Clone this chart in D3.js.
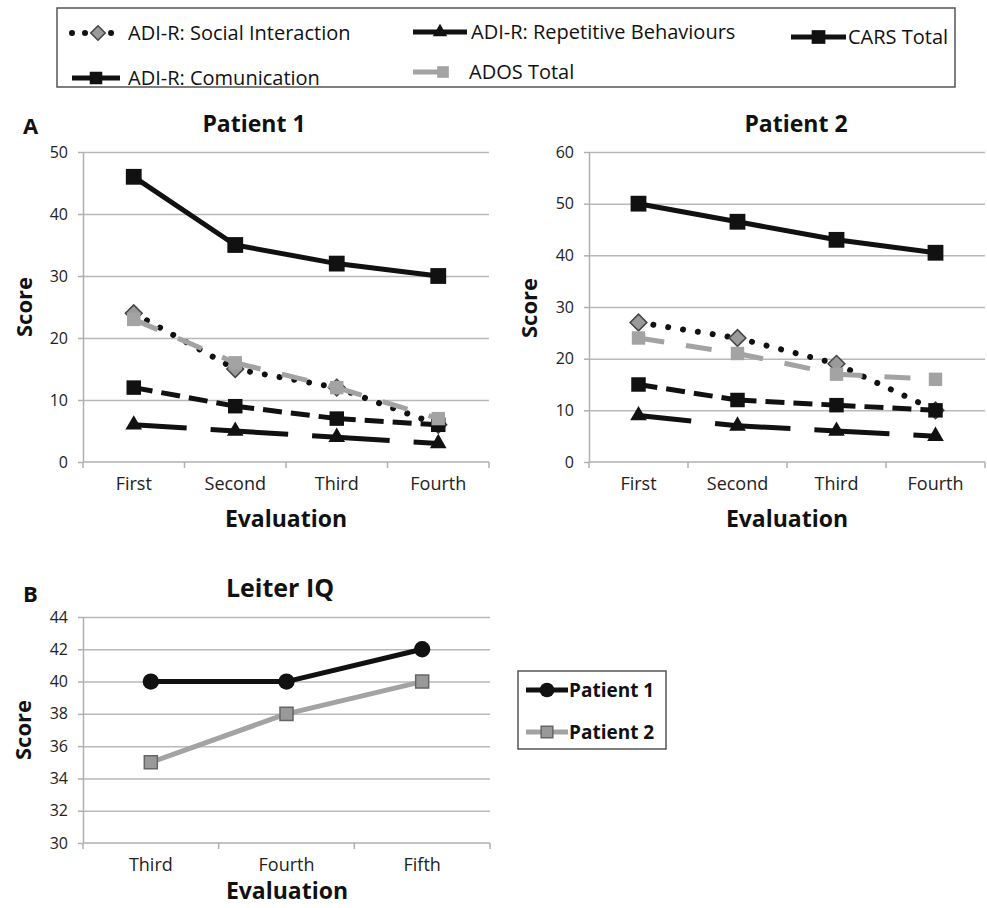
<!DOCTYPE html>
<head>
  <meta charset="utf-8">
  <script src="https://d3js.org/d3.v7.min.js"></script>
  <style>
    body { margin: 0; background: #fff; font-family: "Open Sans", Lato, sans-serif; }
    .grid line { stroke: #b9b9b9; stroke-width: 1.5; }
    .grid path { display: none; }
    .axis path, .axis line { stroke: #b0b0b0; stroke-width: 1.5; }
    .axis text { fill: #222; font-size: 16px; font-family: "Open Sans", sans-serif; }
    .xlab text { font-size: 18px; }
    .ttl { font-weight: bold; font-size: 22px; fill: #111; }
  </style>
</head>
<body>
<div id="chart"></div>
<script>
// categories
var evalA = ["First", "Second", "Third", "Fourth"];
var evalB = ["Third", "Fourth", "Fifth"];

// patient 1
var p1Social = [24, 15, 12, 6];
var p1Comm   = [12, 9, 7, 6];
var p1Rep    = [6, 5, 4, 3];
var p1Ados   = [23, 16, 12, 7];
var p1Cars   = [46, 35, 32, 30];

// patient 2
var p2Social = [27, 24, 19, 10];
var p2Comm   = [15, 12, 11, 10];
var p2Rep    = [9, 7, 6, 5];
var p2Ados   = [24, 21, 17, 16];
var p2Cars   = [50, 46.5, 43, 40.5];

// leiter IQ
var leiterP1 = [40, 40, 42];
var leiterP2 = [35, 38, 40];

var seriesNames = ["ADI-R: Social Interaction", "ADI-R: Comunication", "ADI-R: Repetitive Behaviours", "ADOS Total", "CARS Total"];

var gray = "#a3a3a3";
var styles = {
  social: {stroke: "#111", width: 6, dash: "0.01 15", cap: "round", marker: "diamond", fill: "#9a9a9a", mstroke: "#444", size: 140},
  comm:   {stroke: "#111", width: 5, dash: "19 9", cap: "butt", marker: "square", fill: "#111", mstroke: "none", size: 210},
  rep:    {stroke: "#111", width: 5, dash: "53 24", cap: "butt", marker: "triangle", fill: "#111", mstroke: "none", size: 120},
  ados:   {stroke: gray, width: 5, dash: "26 22", cap: "butt", marker: "square", fill: gray, mstroke: "none", size: 180},
  cars:   {stroke: "#111", width: 5, dash: null, cap: "butt", marker: "square", fill: "#111", mstroke: "none", size: 250}
};

// diamond = square turned 45 degrees
var symbolType = {
  diamond: d3.symbolSquare, square: d3.symbolSquare, triangle: d3.symbolTriangle, circle: d3.symbolCircle
};
function rot(st) { return st.marker == "diamond" ? " rotate(45)" : ""; }

var svg = d3.select("#chart").append("svg")
    .attr("width", 987)
    .attr("height", 908);

function drawSeries(g, x, y, cats, vals, st) {
  var cx = function(i) { return x(cats[i]) + x.bandwidth() / 2; };
  // each segment separately so the dash pattern restarts like excel
  for (var i = 0; i < vals.length - 1; i++) {
    g.append("line")
      .attr("x1", cx(i)).attr("y1", y(vals[i]))
      .attr("x2", cx(i + 1)).attr("y2", y(vals[i + 1]))
      .style("stroke", st.stroke)
      .style("stroke-width", st.width)
      .style("stroke-linecap", st.cap)
      .style("stroke-dasharray", st.dash);
  }
  g.selectAll(null)
    .data(vals)
  .enter().append("path")
    .attr("transform", function(d, i) { return "translate(" + cx(i) + "," + y(d) + ")" + rot(st); })
    .attr("d", d3.symbol().type(symbolType[st.marker]).size(st.size))
    .style("fill", st.fill)
    .style("stroke", st.mstroke)
    .style("stroke-width", 1.5);
}

function drawFrame(g, x, y, ticks, cats) {
  var x0 = x.range()[0], x1 = x.range()[1];
  g.append("g")
    .attr("class", "grid")
    .attr("transform", "translate(" + x0 + ",0)")
    .call(d3.axisLeft(y).tickValues(ticks.slice(1)).tickSize(-(x1 - x0)).tickFormat(""));

  g.append("g")
    .attr("class", "axis")
    .attr("transform", "translate(" + x0 + ",0)")
    .call(d3.axisLeft(y).tickValues(ticks).tickSize(5).tickPadding(10).tickSizeOuter(0));

  var yb = y.range()[0];
  g.append("g")
    .attr("class", "axis xlab")
    .attr("transform", "translate(0," + yb + ")")
    .call(d3.axisBottom(x).tickSize(0).tickPadding(15))
    .select(".domain").remove();

  g.append("line")
    .attr("x1", x0).attr("x2", x1).attr("y1", yb).attr("y2", yb)
    .style("stroke", "#b0b0b0").style("stroke-width", 1.5);

  g.selectAll(null)
    .data(cats.concat(["end"]))
  .enter().append("line")
    .attr("x1", function(d) { return d == "end" ? x1 : x(d); })
    .attr("x2", function(d) { return d == "end" ? x1 : x(d); })
    .attr("y1", yb).attr("y2", yb + 6)
    .style("stroke", "#b0b0b0").style("stroke-width", 1.5);
}

function titles(g, title, tsize, tx, ty, cx, ey, sx, sy) {
  g.append("text").attr("class", "ttl").attr("x", tx).attr("y", ty)
    .style("font-size", tsize + "px")
    .attr("text-anchor", "middle").attr("dy", "0.35em").text(title);
  g.append("text").attr("class", "ttl").attr("x", cx).attr("y", ey)
    .style("font-size", "23px")
    .attr("text-anchor", "middle").attr("dy", "0.35em").text("Evaluation");
  g.append("text").attr("class", "ttl")
    .attr("transform", "translate(" + sx + "," + sy + ") rotate(-90)")
    .attr("text-anchor", "middle").attr("dy", "0.35em").text("Score");
}

// ---- panel A, patient 1
var xA1 = d3.scaleBand().domain(evalA).range([83, 489]);
var yA1 = d3.scaleLinear().domain([0, 50]).range([462, 152]);
var gA1 = svg.append("g");
drawFrame(gA1, xA1, yA1, d3.range(0, 51, 10), evalA);
[[p1Social, "social"], [p1Comm, "comm"], [p1Rep, "rep"], [p1Ados, "ados"], [p1Cars, "cars"]].forEach(function(s) {
  drawSeries(gA1, xA1, yA1, evalA, s[0], styles[s[1]]);
});
titles(gA1, "Patient 1", 23, 254, 124, 286, 519, 24, 307);

// ---- panel A, patient 2
var xA2 = d3.scaleBand().domain(evalA).range([589, 985]);
var yA2 = d3.scaleLinear().domain([0, 60]).range([462, 152]);
var gA2 = svg.append("g");
drawFrame(gA2, xA2, yA2, d3.range(0, 61, 10), evalA);
[[p2Social, "social"], [p2Comm, "comm"], [p2Rep, "rep"], [p2Ados, "ados"], [p2Cars, "cars"]].forEach(function(s) {
  drawSeries(gA2, xA2, yA2, evalA, s[0], styles[s[1]]);
});
titles(gA2, "Patient 2", 23, 796, 124, 787, 519, 529, 308);

svg.append("text").attr("class", "ttl").attr("x", 23).attr("y", 126).attr("dy", "0.35em").text("A");

// ---- legend A
var legA = svg.append("g");
legA.append("rect").attr("x", 57).attr("y", 8).attr("width", 898).attr("height", 79)
  .style("fill", "#fff").style("stroke", "#555").style("stroke-width", 1.5);

var legItems = [
  {key: "social", name: seriesNames[0], x: 72, w: 52, y: 33, tx: 128},
  {key: "comm",   name: seriesNames[1], x: 72, w: 48, y: 78, tx: 128},
  {key: "rep",    name: seriesNames[2], x: 413, w: 54, y: 32, tx: 471},
  {key: "ados",   name: seriesNames[3], x: 413, w: 30, y: 72, tx: 469},
  {key: "cars",   name: seriesNames[4], x: 791, w: 55, y: 37, tx: 848}
];
legItems.forEach(function(d) {
  var st = styles[d.key];
  legA.append("line")
    .attr("x1", d.x).attr("x2", d.x + d.w).attr("y1", d.y).attr("y2", d.y)
    .style("stroke", st.stroke).style("stroke-width", st.width)
    .style("stroke-linecap", st.cap)
    .style("stroke-dasharray", d.key == "social" ? "0.01 13" : null);
  var mx = d.key == "ados" ? d.x + d.w : d.x + d.w / 2;
  legA.append("path")
    .attr("transform", "translate(" + mx + "," + d.y + ")" + rot(st))
    .attr("d", d3.symbol().type(symbolType[st.marker]).size(st.size * 0.75))
    .style("fill", st.fill).style("stroke", st.mstroke).style("stroke-width", 1.5);
  legA.append("text")
    .attr("x", d.tx).attr("y", d.y).attr("dy", "0.35em")
    .style("font-size", "20px").style("fill", "#111")
    .text(d.name);
});

// ---- panel B
var xB = d3.scaleBand().domain(evalB).range([83, 490]);
var yB = d3.scaleLinear().domain([30, 44]).range([843, 617]);
var gB = svg.append("g");
drawFrame(gB, xB, yB, d3.range(30, 45, 2), evalB);
var stB1 = {stroke: "#111", width: 5, dash: null, cap: "butt", marker: "circle", fill: "#111", mstroke: "none", size: 210};
var stB2 = {stroke: gray, width: 5, dash: null, cap: "butt", marker: "square", fill: "#999", mstroke: "#666", size: 170};
drawSeries(gB, xB, yB, evalB, leiterP1, stB1);
drawSeries(gB, xB, yB, evalB, leiterP2, stB2);
titles(gB, "Leiter IQ", 25, 280, 588, 287, 891, 23, 730);
svg.append("text").attr("class", "ttl").attr("x", 23).attr("y", 594).attr("dy", "0.35em").text("B");

// legend B
var legB = svg.append("g");
legB.append("rect").attr("x", 518).attr("y", 671).attr("width", 148).attr("height", 78)
  .style("fill", "#fff").style("stroke", "#555").style("stroke-width", 1.5);
[["Patient 1", stB1, 690], ["Patient 2", stB2, 732]].forEach(function(d) {
  legB.append("line").attr("x1", 526).attr("x2", 568).attr("y1", d[2]).attr("y2", d[2])
    .style("stroke", d[1].stroke).style("stroke-width", d[1].width);
  legB.append("path")
    .attr("transform", "translate(547," + d[2] + ")")
    .attr("d", d3.symbol().type(symbolType[d[1].marker]).size(d[1].size * 0.8))
    .style("fill", d[1].fill).style("stroke", d[1].mstroke).style("stroke-width", 1.5);
  legB.append("text").attr("x", 569).attr("y", d[2]).attr("dy", "0.35em")
    .style("font-size", "19px").style("font-weight", "bold").style("fill", "#111")
    .text(d[0]);
});
</script>
</body>
